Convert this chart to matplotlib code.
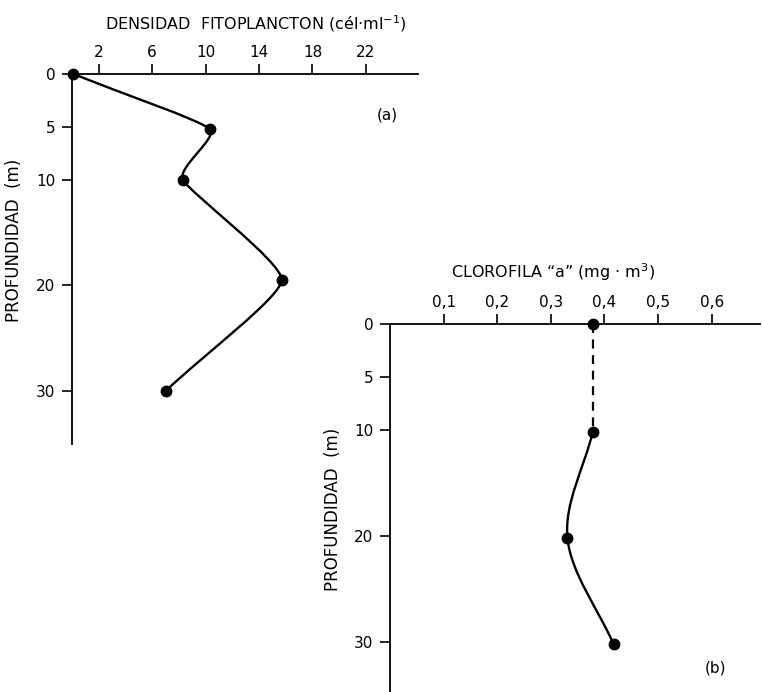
import numpy as np
import matplotlib
matplotlib.use("Agg")
from matplotlib import pyplot as plt
from matplotlib.path import Path
from matplotlib.patches import PathPatch

plt.rcParams['font.family'] = ['DejaVu Sans']

# (a) densidad de fitoplancton
prof_a = [0, 5.2, 10, 19.5, 30]
dens_a = [0.1, 10.3, 8.3, 15.7, 7.0]
xticks_a = [2, 6, 10, 14, 18, 22]

# (b) clorofila "a"
prof_b = [0, 10.2, 20.2, 30.2]
clor_b = [0.378, 0.378, 0.331, 0.417]
xticks_b = [0.1, 0.2, 0.3, 0.4, 0.5, 0.6]
xlabels_b = ["0,1", "0,2", "0,3", "0,4", "0,5", "0,6"]

yticks = [0, 5, 10, 20, 30]

W, H = 762, 692


def smooth_path(x, y, s=1.0):
    # courbe de Bezier type Catmull-Rom passant par les points
    p = np.column_stack([x, y]).astype(float)
    n = len(p)
    m = np.zeros_like(p)
    for i in range(n):
        if i == 0:
            m[i] = p[1] - p[0]
        elif i == n - 1:
            m[i] = p[-1] - p[-2]
        else:
            m[i] = s * (p[i + 1] - p[i - 1]) / 2
    verts = [p[0]]
    codes = [Path.MOVETO]
    for i in range(n - 1):
        verts += [p[i] + m[i] / 3, p[i + 1] - m[i + 1] / 3, p[i + 1]]
        codes += [Path.CURVE4] * 3
    return Path(verts, codes)


def setup(ax):
    ax.xaxis.set_ticks_position('top')
    ax.xaxis.set_label_position('top')
    for s in ['right', 'bottom']:
        ax.spines[s].set_visible(False)
    for s in ['top', 'left']:
        ax.spines[s].set_linewidth(1.3)
    ax.tick_params(direction='out', length=7, width=1.2, labelsize=11, pad=3)
    ax.tick_params(axis='y', pad=5)
    ax.set_yticks(yticks)
    ax.patch.set_alpha(0)


def px(x, y):
    # pixels (origine en haut a gauche) -> coordonnees figure
    return x / W, 1 - y / H


fig = plt.figure(figsize=(W / 100, H / 100), dpi=100)

# panneau (a)
ax1 = fig.add_axes([72 / W, 1 - 444 / H, 346 / W, 370 / H])
setup(ax1)
ax1.set_xlim(0, 25.9)
ax1.set_ylim(35, 0)
ax1.set_xticks(xticks_a)
ax1.add_patch(PathPatch(smooth_path(dens_a, prof_a, 0.5), fill=False, lw=1.7, color='black',
                        clip_on=False))
ax1.plot(dens_a, prof_a, 'o', color='black', ms=7.5, clip_on=False)
ax1.set_ylabel("PROFUNDIDAD  (m)", fontsize=12)
ax1.yaxis.set_label_coords(-0.142, 0.55)

# panneau (b)
ax2 = fig.add_axes([390 / W, 0, 370 / W, 368 / H])
setup(ax2)
ax2.set_xlim(0, 0.69)
ax2.set_ylim(34.7, 0)
ax2.set_xticks(xticks_b)
ax2.set_xticklabels(xlabels_b)
ax2.plot(clor_b[:2], prof_b[:2], color='black', lw=1.6, ls=(0, (4, 3)))
ax2.add_patch(PathPatch(smooth_path(clor_b[1:], prof_b[1:]), fill=False, lw=1.7, color='black',
                        clip_on=False))
ax2.plot(clor_b, prof_b, 'o', color='black', ms=7.5, clip_on=False)
ax2.set_ylabel("PROFUNDIDAD  (m)", fontsize=12)
ax2.yaxis.set_label_coords(-0.13, 0.495)

fig.text(*px(256, 24), "DENSIDAD  FITOPLANCTON (cél·ml$^{-1}$)", fontsize=11.5,
         ha='center', va='center')
fig.text(*px(553, 272), "CLOROFILA “a” (mg · m$^{3}$)", fontsize=11.5,
         ha='center', va='center')
fig.text(*px(387, 115), "(a)", fontsize=11, ha='center', va='center')
fig.text(*px(716, 668), "(b)", fontsize=11, ha='center', va='center')

fig.savefig("out.png", dpi=100)
